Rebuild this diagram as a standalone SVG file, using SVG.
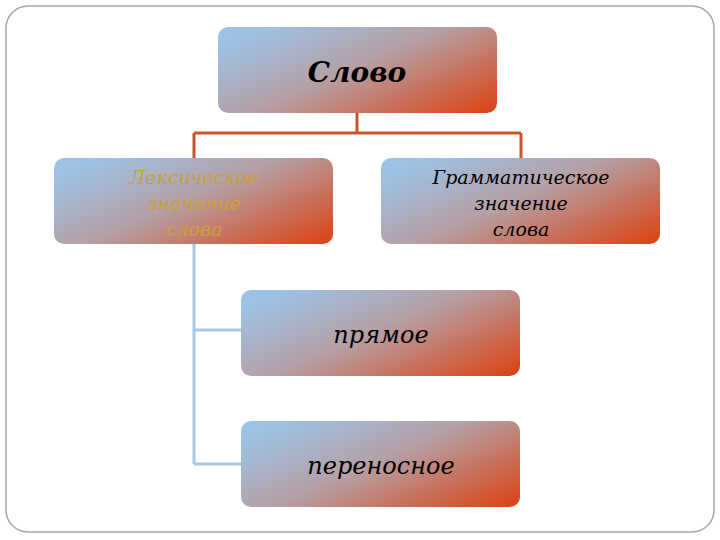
<svg xmlns="http://www.w3.org/2000/svg" width="720" height="540" viewBox="0 0 720 540">
<defs>
<linearGradient id="g" x1="0" y1="0.2" x2="1" y2="0.9">
<stop offset="0" stop-color="#9cc3e6"/>
<stop offset="0.45" stop-color="#b5a0a6"/>
<stop offset="1" stop-color="#d9481c"/>
</linearGradient>
<style>
.box{fill:url(#g)}
.t{font-family:"DejaVu Serif",serif;font-style:italic;text-anchor:middle}
</style>
</defs>
<rect x="0" y="0" width="720" height="540" fill="#fff"/>
<rect x="6" y="6" width="708" height="526" rx="22" fill="none" stroke="#a6a6a6" stroke-width="1.5"/>
<g id="connectors" fill="none" stroke-width="3">
<path d="M357 113V133M194 133H521M194 133V158M521 133V158" stroke="#c8562a"/>
<path d="M194 244V464M194 330H241M194 464H241" stroke="#a8c6e4"/>
</g>
<g id="n1"><rect class="box" x="218" y="27" width="279" height="86" rx="10"/><text class="t" x="357" y="82" font-size="28" font-weight="bold" fill="#000">Слово</text></g>
<g id="n2"><rect class="box" x="54" y="158" width="279" height="86" rx="10"/><text class="t" font-size="19" fill="#c9a236"><tspan x="194" y="184">Лексическое</tspan><tspan x="194" y="210">значение</tspan><tspan x="194" y="236">слова</tspan></text></g>
<g id="n3"><rect class="box" x="381" y="158" width="279" height="86" rx="10"/><text class="t" font-size="19" fill="#000"><tspan x="521" y="184">Грамматическое</tspan><tspan x="521" y="210">значение</tspan><tspan x="521" y="236">слова</tspan></text></g>
<g id="n4"><rect class="box" x="241" y="290" width="279" height="86" rx="10"/><text class="t" x="381" y="343" font-size="24" fill="#000">прямое</text></g>
<g id="n5"><rect class="box" x="241" y="421" width="279" height="86" rx="10"/><text class="t" x="381" y="474" font-size="24" fill="#000">переносное</text></g>
</svg>
